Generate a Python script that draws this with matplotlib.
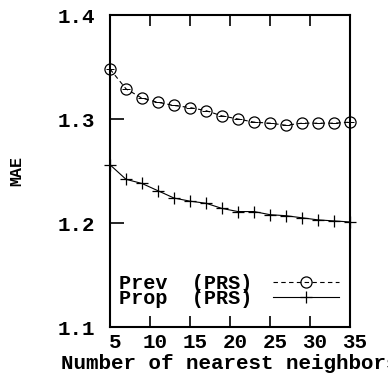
import matplotlib
matplotlib.use('Agg')
import matplotlib.pyplot as plt
import matplotlib.transforms as mtransforms
import numpy as np

k = [5, 7, 9, 11, 13, 15, 17, 19, 21, 23, 25, 27, 29, 31, 33, 35]
prev_prs = [1.348, 1.329, 1.320, 1.316, 1.313, 1.311, 1.308, 1.303, 1.300, 1.297,
            1.296, 1.294, 1.296, 1.296, 1.296, 1.297]
prop_prs = [1.256, 1.242, 1.238, 1.231, 1.224, 1.221, 1.219, 1.214, 1.211, 1.211,
            1.208, 1.207, 1.205, 1.203, 1.202, 1.201]
xticks = [5, 10, 15, 20, 25, 30, 35]
yticks = [1.1, 1.2, 1.3, 1.4]

plt.rcParams['font.family'] = 'Liberation Mono'
plt.rcParams['font.weight'] = 'bold'

fig = plt.figure(figsize=(3.88, 3.76), dpi=100)
ax = fig.add_axes([0.2835, 0.1303, 0.6186, 0.8298])

ax.plot(k, prev_prs, color='black', linestyle=(0, (4, 3)), linewidth=0.8,
        marker='o', markersize=8, markerfacecolor='none', markeredgewidth=0.9,
        clip_on=False, label='Prev  (PRS)')
ax.plot(k, prop_prs, color='black', linestyle='-', linewidth=0.8,
        marker='+', markersize=9, markeredgewidth=0.9,
        clip_on=False, label='Prop  (PRS)')
# small horizontal bar inside the circles, gnuplot style
ax.plot(k, prev_prs, color='black', linestyle='none', marker='_', markersize=6,
        markeredgewidth=0.7, clip_on=False)

ax.set_xlim(5, 35)
ax.set_ylim(1.1, 1.4)
ax.set_xticks(xticks)
ax.set_yticks(yticks)
ax.set_yticklabels(['%.1f' % v for v in yticks])
ax.tick_params(axis='x', direction='in', length=8, width=1.2, top=True,
               labelsize=15, pad=4)
ax.tick_params(axis='y', direction='in', length=10, width=1.2, right=False,
               labelsize=15, pad=11)
for s in ax.spines.values():
    s.set_linewidth(1.5)

# gnuplot puts the x tick labels a bit to the right of the ticks
shift = mtransforms.ScaledTranslation(5 / 100, 0, fig.dpi_scale_trans)
for lab in ax.get_xticklabels():
    lab.set_transform(lab.get_transform() + shift)

ax.set_xlabel('Number of nearest neighbors', fontsize=15, fontweight='bold',
              labelpad=2)
ylab = ax.set_ylabel('MAE', fontsize=12, fontweight='bold')
ylab.set_va('center')
ax.yaxis.set_label_coords(-0.3875, 0.5)

ax.legend(loc='lower left', bbox_to_anchor=(-0.029, 0.008), frameon=False,
          fontsize=14.5, handlelength=3.3, handletextpad=1.0, labelspacing=-0.2,
          markerfirst=False, borderpad=0.3)

plt.savefig('out.png', dpi=100)
